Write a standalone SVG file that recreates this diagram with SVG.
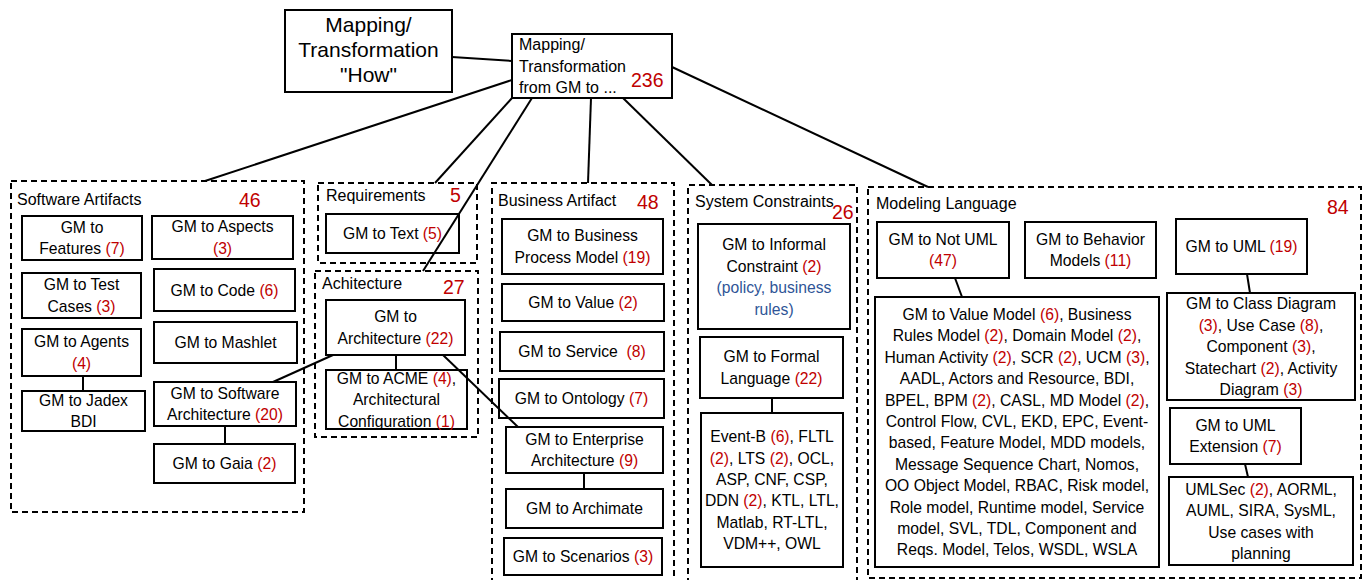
<svg xmlns="http://www.w3.org/2000/svg" width="1367" height="580" viewBox="0 0 1367 580">
<style>
.box{fill:#fff;stroke:#000;stroke-width:2}
.grp{fill:none;stroke:#000;stroke-width:2;stroke-dasharray:6 4}
.ln{fill:none;stroke:#000;stroke-width:2}
text{font-family:"Liberation Sans",Arial,sans-serif;fill:#000}
.t{font-size:15.7px;text-anchor:middle}
.ttl{font-size:16px}
.num{font-size:19.5px;fill:#c00000}
.r{fill:#c00000}
.b{fill:#2f5597}
.big{font-size:21px;text-anchor:middle}
</style>
<rect width="1367" height="580" fill="#fff"/>

<g id="how">
<rect class="box" x="285" y="10" width="167" height="82"/>
<text class="big" x="368.5" y="32">Mapping/</text>
<text class="big" x="368.5" y="57">Transformation</text>
<text class="big" x="368.5" y="82">"How"</text>
</g>

<g id="root">
<rect class="box" x="512" y="34" width="160" height="64"/>
<text class="ttl" x="519" y="50">Mapping/</text>
<text class="ttl" x="519" y="71.5">Transformation</text>
<text class="ttl" x="519" y="92.5">from GM to ...</text>
<text class="num" x="631" y="87">236</text>
</g>

<g id="software-artifacts">
<rect class="grp" x="11" y="181" width="293" height="331"/>
<text class="ttl" x="17" y="205">Software Artifacts</text>
<text class="num" x="239" y="207">46</text>
</g>
<g id="sa-features"><rect class="box" x="22" y="216" width="120" height="44"/>
<text class="t" x="82" y="232.9">GM to</text><text class="t" x="82" y="254.3">Features <tspan class="r">(7)</tspan></text></g>
<g id="sa-aspects"><rect class="box" x="152" y="216" width="141" height="43"/>
<text class="t" x="222.5" y="232.4">GM to Aspects</text><text class="t r" x="222.5" y="253.8">(3)</text></g>
<g id="sa-test"><rect class="box" x="22" y="273" width="119" height="45"/>
<text class="t" x="81.5" y="290.4">GM to Test</text><text class="t" x="81.5" y="311.8">Cases <tspan class="r">(3)</tspan></text></g>
<g id="sa-code"><rect class="box" x="154" y="269" width="141" height="42"/>
<text class="t" x="224.5" y="295.6">GM to Code <tspan class="r">(6)</tspan></text></g>
<g id="sa-agents"><rect class="box" x="22" y="329" width="119" height="47"/>
<text class="t" x="81.5" y="347.4">GM to Agents</text><text class="t r" x="81.5" y="368.8">(4)</text></g>
<g id="sa-mashlet"><rect class="box" x="154" y="322" width="143" height="41"/>
<text class="t" x="225.5" y="348.1">GM to Mashlet</text></g>
<g id="sa-jadex"><rect class="box" x="22" y="391" width="123" height="40"/>
<text class="t" x="83.5" y="405.9">GM to Jadex</text><text class="t" x="83.5" y="427.3">BDI</text></g>
<g id="sa-swarch"><rect class="box" x="154" y="382" width="142" height="44"/>
<text class="t" x="225" y="398.9">GM to Software</text><text class="t" x="225" y="420.3">Architecture <tspan class="r">(20)</tspan></text></g>
<g id="sa-gaia"><rect class="box" x="154" y="444" width="141" height="39"/>
<text class="t" x="224.5" y="469.1">GM to Gaia <tspan class="r">(2)</tspan></text></g>

<g id="requirements">
<rect class="grp" x="318" y="183" width="159" height="80"/>
<text class="ttl" x="326" y="200.7">Requirements</text>
<text class="num" x="450" y="201.7">5</text>
</g>
<g id="rq-text"><rect class="box" x="326" y="214" width="133" height="39"/>
<text class="t" x="392.5" y="239.1">GM to Text <tspan class="r">(5)</tspan></text></g>

<g id="architecture">
<rect class="grp" x="315" y="271" width="163" height="166"/>
<text class="ttl" x="322" y="289.3">Achitecture</text>
<text class="num" x="443" y="294.3">27</text>
</g>
<g id="ar-arch"><rect class="box" x="326" y="300" width="139" height="55"/>
<text class="t" x="395.5" y="322.4">GM to</text><text class="t" x="395.5" y="343.8">Architecture <tspan class="r">(22)</tspan></text></g>
<g id="ar-acme"><rect class="box" x="326" y="370" width="141" height="59"/>
<text class="t" x="396.5" y="383.7">GM to ACME <tspan class="r">(4)</tspan>,</text>
<text class="t" x="396.5" y="405.1">Architectural</text>
<text class="t" x="396.5" y="426.5">Configuration <tspan class="r">(1)</tspan></text></g>

<g id="business-artifact">
<path class="grp" d="M492,584 V183 H674 V584"/>
<text class="ttl" x="498" y="205.7">Business Artifact</text>
<text class="num" x="637" y="209.3">48</text>
</g>
<g id="ba-bpm"><rect class="box" x="502" y="219" width="161" height="55"/>
<text class="t" x="582.5" y="241.4">GM to Business</text><text class="t" x="582.5" y="262.8">Process Model <tspan class="r">(19)</tspan></text></g>
<g id="ba-value"><rect class="box" x="502" y="284" width="162" height="37"/>
<text class="t" x="583" y="308.1">GM to Value <tspan class="r">(2)</tspan></text></g>
<g id="ba-service"><rect class="box" x="500" y="332" width="164" height="39"/>
<text class="t" x="582" y="357.1">GM to Service&#160; <tspan class="r">(8)</tspan></text></g>
<g id="ba-ontology"><rect class="box" x="499" y="379" width="165" height="39"/>
<text class="t" x="581.5" y="404.1">GM to Ontology <tspan class="r">(7)</tspan></text></g>
<g id="ba-enterprise"><rect class="box" x="506" y="427" width="157" height="46"/>
<text class="t" x="584.5" y="444.9">GM to Enterprise</text><text class="t" x="584.5" y="466.3">Architecture <tspan class="r">(9)</tspan></text></g>
<g id="ba-archimate"><rect class="box" x="506" y="489" width="157" height="39"/>
<text class="t" x="584.5" y="514.1">GM to Archimate</text></g>
<g id="ba-scenarios"><rect class="box" x="504" y="538" width="158" height="37"/>
<text class="t" x="583" y="562.1">GM to Scenarios <tspan class="r">(3)</tspan></text></g>

<g id="system-constraints">
<path class="grp" d="M688,584 V185 H857 V584"/>
<text class="ttl" x="695" y="207.3">System Constraints</text>
<text class="num" x="832" y="219.3">26</text>
</g>
<g id="sc-informal"><rect class="box" x="698" y="224" width="152" height="105"/>
<text class="t" x="774" y="250.4">GM to Informal</text>
<text class="t" x="774" y="271.8">Constraint <tspan class="r">(2)</tspan></text>
<text class="t b" x="774" y="293.2">(policy, business</text>
<text class="t b" x="774" y="314.6">rules)</text></g>
<g id="sc-formal"><rect class="box" x="700" y="337" width="143" height="61"/>
<text class="t" x="771.5" y="362.4">GM to Formal</text><text class="t" x="771.5" y="383.8">Language <tspan class="r">(22)</tspan></text></g>
<g id="sc-list"><rect class="box" x="701" y="413" width="142" height="154"/>
<text class="t" x="772" y="442.1">Event-B <tspan class="r">(6)</tspan>, FLTL</text>
<text class="t" x="772" y="463.5"><tspan class="r">(2)</tspan>, LTS <tspan class="r">(2)</tspan>, OCL,</text>
<text class="t" x="772" y="484.9">ASP, CNF, CSP,</text>
<text class="t" x="772" y="506.3">DDN <tspan class="r">(2)</tspan>, KTL, LTL,</text>
<text class="t" x="772" y="527.7">Matlab, RT-LTL,</text>
<text class="t" x="772" y="549.1">VDM++, OWL</text></g>

<g id="modeling-language">
<rect class="grp" x="868" y="187" width="493" height="391"/>
<text class="ttl" x="876" y="209.3">Modeling Language</text>
<text class="num" x="1327" y="214">84</text>
</g>
<g id="ml-notuml"><rect class="box" x="877" y="222" width="132" height="56"/>
<text class="t" x="943" y="244.9">GM to Not UML</text><text class="t r" x="943" y="266.3">(47)</text></g>
<g id="ml-behavior"><rect class="box" x="1025" y="222" width="131" height="56"/>
<text class="t" x="1090.5" y="244.9">GM to Behavior</text><text class="t" x="1090.5" y="266.3">Models <tspan class="r">(11)</tspan></text></g>
<g id="ml-uml"><rect class="box" x="1176" y="219" width="131" height="55"/>
<text class="t" x="1241.5" y="252.1">GM to UML <tspan class="r">(19)</tspan></text></g>
<g id="ml-notuml-list"><rect class="box" x="875" y="297" width="284" height="270"/>
<text class="t" x="1017" y="319.9">GM to Value Model <tspan class="r">(6)</tspan>, Business</text>
<text class="t" x="1017" y="341.3">Rules Model <tspan class="r">(2)</tspan>, Domain Model <tspan class="r">(2)</tspan>,</text>
<text class="t" x="1017" y="362.7">Human Activity <tspan class="r">(2)</tspan>, SCR <tspan class="r">(2)</tspan>, UCM <tspan class="r">(3)</tspan>,</text>
<text class="t" x="1017" y="384.1">AADL, Actors and Resource, BDI,</text>
<text class="t" x="1017" y="405.5">BPEL, BPM <tspan class="r">(2)</tspan>, CASL, MD Model <tspan class="r">(2)</tspan>,</text>
<text class="t" x="1017" y="426.9">Control Flow, CVL, EKD, EPC, Event-</text>
<text class="t" x="1017" y="448.3">based, Feature Model, MDD models,</text>
<text class="t" x="1017" y="469.7">Message Sequence Chart, Nomos,</text>
<text class="t" x="1017" y="491.1">OO Object Model, RBAC, Risk model,</text>
<text class="t" x="1017" y="512.5">Role model, Runtime model, Service</text>
<text class="t" x="1017" y="533.9">model, SVL, TDL, Component and</text>
<text class="t" x="1017" y="555.3">Reqs. Model, Telos, WSDL, WSLA</text></g>
<g id="ml-class"><rect class="box" x="1167" y="293" width="188" height="107"/>
<text class="t" x="1261" y="309.3">GM to Class Diagram</text>
<text class="t" x="1261" y="330.7"><tspan class="r">(3)</tspan>, Use Case <tspan class="r">(8)</tspan>,</text>
<text class="t" x="1261" y="352.1">Component <tspan class="r">(3)</tspan>,</text>
<text class="t" x="1261" y="373.5">Statechart <tspan class="r">(2)</tspan>, Activity</text>
<text class="t" x="1261" y="394.9">Diagram <tspan class="r">(3)</tspan></text></g>
<g id="ml-umlext"><rect class="box" x="1170" y="408" width="131" height="56"/>
<text class="t" x="1235.5" y="430.9">GM to UML</text><text class="t" x="1235.5" y="452.3">Extension <tspan class="r">(7)</tspan></text></g>
<g id="ml-umlsec"><rect class="box" x="1169" y="477" width="184" height="88"/>
<text class="t" x="1261" y="494.9">UMLSec <tspan class="r">(2)</tspan>, AORML,</text>
<text class="t" x="1261" y="516.3">AUML, SIRA, SysML,</text>
<text class="t" x="1261" y="537.7">Use cases with</text>
<text class="t" x="1261" y="559.1">planning</text></g>

<g id="connectors">
<line class="ln" x1="452" y1="57" x2="512" y2="61"/>
<line class="ln" x1="512" y1="80" x2="205" y2="181"/>
<line class="ln" x1="512" y1="98" x2="435" y2="183"/>
<line class="ln" x1="532" y1="98" x2="423" y2="271"/>
<line class="ln" x1="591" y1="98" x2="588" y2="183"/>
<line class="ln" x1="623" y1="98" x2="712" y2="185"/>
<line class="ln" x1="672" y1="67" x2="928" y2="187"/>
<line class="ln" x1="83" y1="376" x2="83" y2="391"/>
<line class="ln" x1="225" y1="426" x2="225" y2="444"/>
<line class="ln" x1="396" y1="355" x2="396" y2="370"/>
<line class="ln" x1="273" y1="382" x2="333" y2="355"/>
<line class="ln" x1="443" y1="355" x2="518" y2="427"/>
<line class="ln" x1="584" y1="473" x2="584" y2="489"/>
<line class="ln" x1="772" y1="398" x2="772" y2="413"/>
<line class="ln" x1="955" y1="278" x2="962" y2="297"/>
<line class="ln" x1="1247" y1="274" x2="1250" y2="293"/>
<line class="ln" x1="1245" y1="464" x2="1248" y2="477"/>
</g>
</svg>
